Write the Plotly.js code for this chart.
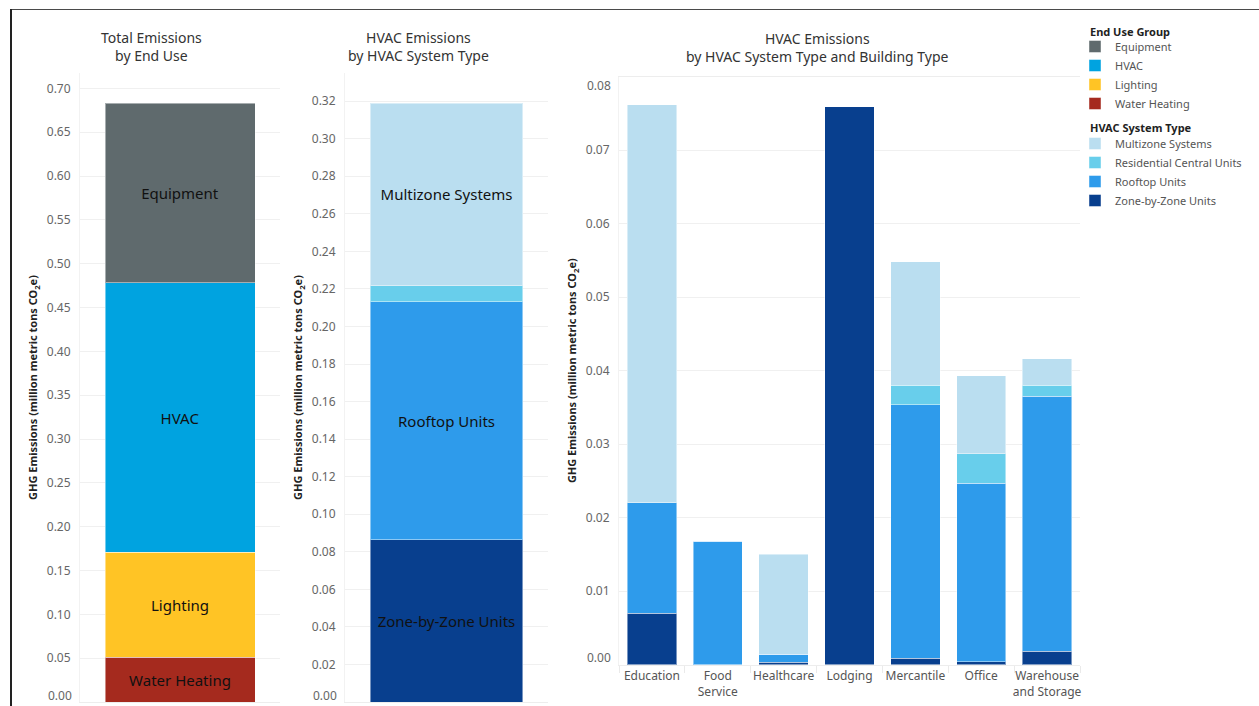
<!DOCTYPE html>
<html>
<head>
<meta charset="utf-8">
<script src="https://cdn.plot.ly/plotly-3.0.1.min.js"></script>
<style>
  html, body { margin: 0; padding: 0; background: #fff; }
  #wrap { position: relative; width: 1259px; height: 706px; overflow: hidden; }
  #chart { position: absolute; left: 0; top: 0; width: 1259px; height: 706px; }
  .frame-top { position: absolute; left: 10px; top: 9px; width: 1249px; height: 1px; background: #4a4a4a; pointer-events: none; }
  .frame-left { position: absolute; left: 10px; top: 9px; width: 2px; height: 697px; background: #222; pointer-events: none; }
</style>
</head>
<body>
<div id="wrap">
  <div id="chart"></div>
  <div class="frame-top"></div>
  <div class="frame-left"></div>
</div>
<script>
// ---------- DATA ----------
// Panel 1: Total emissions by end use (million metric tons CO2e), stacked bottom -> top
const endUseGroups = ['Water Heating', 'Lighting', 'HVAC', 'Equipment'];
const endUseValues = [0.051, 0.120, 0.307, 0.205];
const endUseColors = ['#A52A1E', '#FFC425', '#00A3E0', '#5F6A6D'];

// Panel 2: HVAC emissions by HVAC system type, stacked bottom -> top
const hvacTypes = ['Zone-by-Zone Units', 'Rooftop Units', 'Residential Central Units', 'Multizone Systems'];
const hvacTotals = [0.0865, 0.1267, 0.0084, 0.0974];
const hvacLabels = ['Zone-by-Zone Units', 'Rooftop Units', null, 'Multizone Systems'];
const hvacColors = ['#083F8E', '#2E9BEB', '#68CEEB', '#BADEF0'];

// Panel 3: HVAC emissions by system type and building type
const buildingTypes = ['Education', 'Food<br>Service', 'Healthcare', 'Lodging', 'Mercantile', 'Office', 'Warehouse<br>and Storage'];
const zoneByZone   = [0.0070, 0.0000, 0.0003, 0.0759, 0.0009, 0.0004, 0.0018];
const rooftop      = [0.0150, 0.0168, 0.0011, 0.0000, 0.0345, 0.0243, 0.0347];
const residential  = [0.0000, 0.0000, 0.0000, 0.0000, 0.0026, 0.0040, 0.0015];
const multizone    = [0.0542, 0.0000, 0.0136, 0.0000, 0.0168, 0.0106, 0.0036];

// Tick values
const ticks1 = [0, 0.05, 0.10, 0.15, 0.20, 0.25, 0.30, 0.35, 0.40, 0.45, 0.50, 0.55, 0.60, 0.65, 0.70];
const ticks2 = [0, 0.02, 0.04, 0.06, 0.08, 0.10, 0.12, 0.14, 0.16, 0.18, 0.20, 0.22, 0.24, 0.26, 0.28, 0.30, 0.32];
const ticks3 = [0, 0.01, 0.02, 0.03, 0.04, 0.05, 0.06, 0.07, 0.08];

// ---------- LAYOUT HELPERS ----------
const W = 1259, H = 706;
const px = x => x / W;
const py = y => (H - y) / H;
const FONT = 'Noto Sans, Open Sans, sans-serif';
const yTitle = 'GHG Emissions (million metric tons CO<sub>2</sub>e)';

const traces = [];
const barLine = { color: 'rgba(255,255,255,0.45)', width: 1 };

endUseGroups.forEach((g, i) => {
  traces.push({
    type: 'bar', name: g, x: ['Total'], y: [endUseValues[i]],
    xaxis: 'x', yaxis: 'y',
    marker: { color: endUseColors[i], line: barLine },
    text: [g], textposition: 'inside', insidetextanchor: 'middle',
    textfont: { family: FONT, size: 15, color: '#111' },
    constraintext: 'none',
    legend: 'legend', legendgroup: 'eu' + i,
    hovertemplate: g + ': %{y:.3f}<extra></extra>'
  });
});

hvacTypes.forEach((t, i) => {
  const tr = {
    type: 'bar', name: t, x: ['HVAC'], y: [hvacTotals[i]],
    xaxis: 'x2', yaxis: 'y2',
    marker: { color: hvacColors[i], line: barLine },
    legend: 'legend2', legendgroup: 'hv' + i, showlegend: true,
    hovertemplate: t + ': %{y:.3f}<extra></extra>'
  };
  if (hvacLabels[i]) {
    Object.assign(tr, {
      text: [hvacLabels[i]], textposition: 'inside', insidetextanchor: 'middle',
      textfont: { family: FONT, size: 15, color: '#111' }, constraintext: 'none'
    });
  } else {
    tr.textposition = 'none';
  }
  traces.push(tr);
});

const bySeries = [zoneByZone, rooftop, residential, multizone];
hvacTypes.forEach((t, i) => {
  traces.push({
    type: 'bar', name: t, x: buildingTypes, y: bySeries[i],
    xaxis: 'x3', yaxis: 'y3',
    marker: { color: hvacColors[i], line: barLine },
    legend: 'legend2', legendgroup: 'hv' + i, showlegend: false,
    hovertemplate: t + ' – %{x}: %{y:.4f}<extra></extra>'
  });
});

const fmt = (v, d) => v.toFixed(d);
const tickFont = { family: FONT, size: 12, color: '#666' };
const gridColor = '#F0F0F0';

function yAxis(range, tickvals, dec) {
  return {
    range: range, tickvals: tickvals,
    ticktext: tickvals.map(v => fmt(v, dec)),
    tickfont: tickFont, showgrid: true, gridcolor: gridColor, gridwidth: 1,
    zeroline: false, showline: true, linecolor: '#F2F2F2', linewidth: 1,
    ticks: '', ticklabelstandoff: 6, fixedrange: true,
    title: { text: yTitle, font: { family: FONT, size: 11, color: '#222', weight: 'bold' }, standoff: 6 }
  };
}

// end ticks whose labels are nudged inward (drawn as annotations below)
const y1 = yAxis([0, 0.7175], ticks1.slice(1), 2);
y1.domain = [py(702), py(73)];
const y2 = yAxis([0, 0.335], ticks2.slice(1), 2);
y2.domain = [py(702), py(73)];
const y3 = yAxis([0, 0.08], ticks3.slice(1, -1), 2);
y3.domain = [py(664.7), py(76.7)];

const legendCommon = {
  xanchor: 'left', yanchor: 'top', traceorder: 'reversed',
  font: { family: FONT, size: 11, color: '#555' },
  bgcolor: 'rgba(0,0,0,0)', borderwidth: 0, tracegroupgap: 0
};

const layout = {
  width: W, height: H,
  margin: { l: 0, r: 0, t: 0, b: 0 },
  paper_bgcolor: '#fff', plot_bgcolor: '#fff',
  font: { family: FONT, color: '#555' },
  barmode: 'stack', bargap: 0.25,
  showlegend: true,
  xaxis:  { domain: [px(80), px(280)], anchor: 'y', showticklabels: false, showgrid: false, zeroline: false,
            showline: true, linecolor: '#EDEDED', fixedrange: true },
  yaxis:  Object.assign(y1, { anchor: 'x' }),
  xaxis2: { domain: [px(345), px(548)], anchor: 'y2', showticklabels: false, showgrid: false, zeroline: false,
            showline: true, linecolor: '#EDEDED', fixedrange: true },
  yaxis2: Object.assign(y2, { anchor: 'x2' }),
  xaxis3: { domain: [px(619), px(1080)], anchor: 'y3', showgrid: false, zeroline: false,
            showline: true, mirror: true, linecolor: '#EDEDED', ticks: 'outside', tickson: 'boundaries',
            ticklen: 7, tickcolor: '#EAEAEA', tickangle: 0,
            tickfont: { family: FONT, size: 12, color: '#555' },
            fixedrange: true, categoryorder: 'array', categoryarray: buildingTypes },
  yaxis3: Object.assign(y3, { anchor: 'x3' }),
  legend:  Object.assign({ x: px(1075), y: py(32) }, legendCommon),
  legend2: Object.assign({ x: px(1075), y: py(129) }, legendCommon),
  annotations: [
    { text: 'Total Emissions<br>by End Use', xref: 'paper', yref: 'paper', x: px(151), y: py(46),
      showarrow: false, xanchor: 'center', yanchor: 'middle', font: { family: FONT, size: 14, color: '#333' } },
    { text: 'HVAC Emissions<br>by HVAC System Type', xref: 'paper', yref: 'paper', x: px(418), y: py(46),
      showarrow: false, xanchor: 'center', yanchor: 'middle', font: { family: FONT, size: 14, color: '#333' } },
    { text: 'HVAC Emissions<br>by HVAC System Type and Building Type', xref: 'paper', yref: 'paper', x: px(818), y: py(48),
      showarrow: false, xanchor: 'center', yanchor: 'middle', font: { family: FONT, size: 14, color: '#333' } },
    // legend group titles
    { text: '<b>End Use Group</b>', xref: 'paper', yref: 'paper', x: px(1088), y: py(31),
      showarrow: false, xanchor: 'left', yanchor: 'middle', font: { family: FONT, size: 11, color: '#222' } },
    { text: '<b>HVAC System Type</b>', xref: 'paper', yref: 'paper', x: px(1088), y: py(128),
      showarrow: false, xanchor: 'left', yanchor: 'middle', font: { family: FONT, size: 11, color: '#222' } },
    // end tick labels nudged inward like the original
    { text: fmt(ticks1[0], 2), xref: 'paper', yref: 'y', x: px(74), y: ticks1[0], yshift: 7,
      showarrow: false, xanchor: 'right', yanchor: 'middle', font: tickFont },
    { text: fmt(ticks2[0], 2), xref: 'paper', yref: 'y2', x: px(339), y: ticks2[0], yshift: 7,
      showarrow: false, xanchor: 'right', yanchor: 'middle', font: tickFont },
    { text: fmt(ticks3[0], 2), xref: 'paper', yref: 'y3', x: px(613), y: ticks3[0], yshift: 7,
      showarrow: false, xanchor: 'right', yanchor: 'middle', font: tickFont },
    { text: fmt(ticks3[ticks3.length - 1], 2), xref: 'paper', yref: 'y3', x: px(613), y: ticks3[ticks3.length - 1], yshift: -9,
      showarrow: false, xanchor: 'right', yanchor: 'middle', font: tickFont }
  ]
};

Plotly.newPlot('chart', traces, layout, { displayModeBar: false, responsive: false });
</script>
</body>
</html>
